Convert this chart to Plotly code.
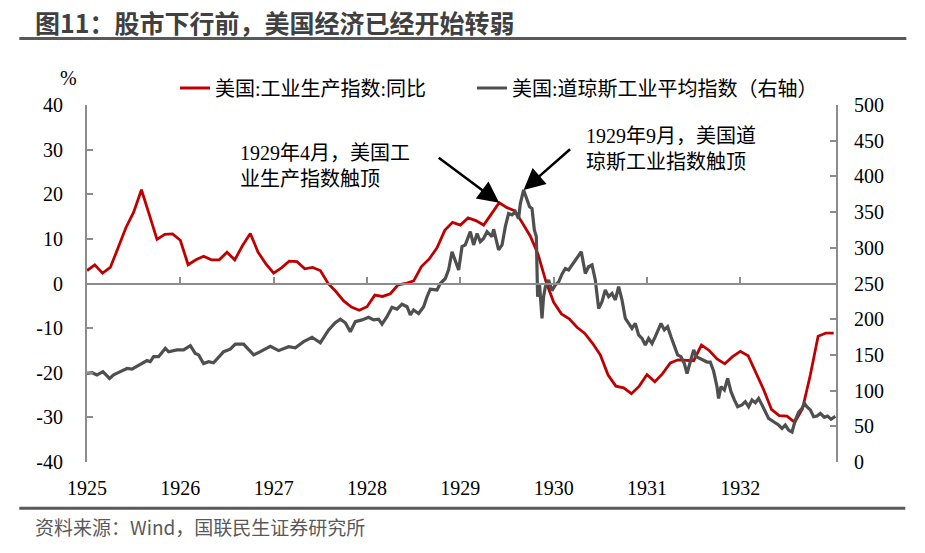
import plotly.graph_objects as go

# ---------------- data ----------------
years = [1925, 1926, 1927, 1928, 1929, 1930, 1931, 1932]
year_labels = ["1925", "1926", "1927", "1928", "1929", "1930", "1931", "1932"]
left_ticks = [-40, -30, -20, -10, 0, 10, 20, 30, 40]
left_labels = ["-40", "-30", "-20", "-10", "0", "10", "20", "30", "40"]
right_ticks = [0, 50, 100, 150, 200, 250, 300, 350, 400, 450, 500]

# US industrial production YoY (%), monthly from 1925-01
ip_yoy = [2.9, 4.2, 2.3, 3.6, 8.0, 12.5, 16.0, 21.0, 15.5, 9.9, 11.0, 11.1,
          9.7, 4.2, 5.3, 6.1, 5.3, 5.3, 7.0, 5.3, 8.5, 11.2, 7.0, 4.4,
          2.3, 3.5, 5.0, 4.9, 3.3, 3.6, 2.9, 0.0, -1.8, -3.9, -5.3, -6.0,
          -5.2, -2.6, -2.9, -2.3, -0.3, 0.0, 0.6, 3.8, 5.5, 8.0, 11.9, 13.7,
          13.1, 14.7, 14.1, 13.1, 15.6, 18.1, 17.0, 16.3, 13.5, 10.6, 6.5, 0.5,
          -4.2, -6.8, -7.9, -9.8, -11.2, -13.4, -16.0, -20.5, -23.0, -23.4, -24.7, -23.0,
          -20.4, -22.0, -20.2, -17.8, -17.1, -17.2, -17.3, -13.8, -15.0, -16.9, -18.0, -16.4,
          -15.2, -16.2, -20.0, -23.8, -28.2, -29.6, -29.7, -31.1, -28.0, -20.5, -11.8, -11.1,
          -11.1]

# Dow Jones Industrial Average: time (years after 1925-01-01) and level
dow_t = [0.000, 0.054, 0.107, 0.171, 0.242, 0.285, 0.357, 0.429, 0.482, 0.571,
         0.643, 0.678, 0.714, 0.767, 0.839, 0.874, 0.964, 1.035, 1.107, 1.160,
         1.196, 1.249, 1.303, 1.356, 1.464, 1.535, 1.589, 1.678, 1.731, 1.785,
         1.857, 1.964, 2.053, 2.160, 2.232, 2.321, 2.411, 2.500, 2.589, 2.660,
         2.714, 2.768, 2.821, 2.875, 2.947, 3.017, 3.071, 3.124, 3.161, 3.214,
         3.268, 3.322, 3.375, 3.429, 3.464, 3.499, 3.553, 3.607, 3.643, 3.678,
         3.750, 3.785, 3.839, 3.874, 3.911, 3.946, 3.982, 4.018, 4.053, 4.107,
         4.142, 4.179, 4.214, 4.249, 4.286, 4.339, 4.357, 4.410, 4.447, 4.482,
         4.517, 4.554, 4.589, 4.624, 4.643, 4.678, 4.714, 4.742, 4.768, 4.793,
         4.814, 4.828, 4.849, 4.857, 4.875, 4.892, 4.911, 4.946, 4.982, 5.018,
         5.053, 5.089, 5.125, 5.160, 5.197, 5.250, 5.296, 5.339, 5.374, 5.411,
         5.446, 5.482, 5.518, 5.553, 5.589, 5.625, 5.661, 5.696, 5.732, 5.768,
         5.803, 5.839, 5.875, 5.910, 5.947, 5.982, 6.017, 6.054, 6.089, 6.125,
         6.150, 6.186, 6.221, 6.257, 6.293, 6.328, 6.364, 6.400, 6.429, 6.464,
         6.500, 6.528, 6.564, 6.607, 6.643, 6.678, 6.714, 6.750, 6.767, 6.793,
         6.829, 6.864, 6.900, 6.936, 6.971, 7.018, 7.053, 7.089, 7.125, 7.161,
         7.196, 7.232, 7.268, 7.303, 7.357, 7.410, 7.447, 7.482, 7.517, 7.554,
         7.589, 7.625, 7.661, 7.686, 7.715, 7.750, 7.785, 7.822, 7.857, 7.900,
         7.935, 7.972, 8.018]
dow = [124, 125, 122, 126.5, 117, 122, 126.5, 131, 130, 136,
       142, 140.5, 147.5, 147.5, 159, 154.5, 157, 157, 163, 152,
       150, 138, 140.5, 139, 154.5, 158, 165, 165, 158, 150,
       154.5, 162, 156, 161.5, 160, 168.5, 174.7, 167, 185, 195,
       200, 195, 182.5, 196.5, 199, 202.7, 199, 200, 193, 203.5,
       216.7, 214, 221, 217.5, 206, 213, 208, 217.5, 231.5, 242,
       241, 250, 257, 269, 294.5, 280.5, 269, 301.6, 304, 322.6,
       304, 320, 308.6, 313, 322.6, 315.6, 326, 297, 304, 329.6,
       348, 346, 350.6, 341, 362, 381, 369, 357.6, 355, 325,
       315.6, 231.5, 248, 236, 201, 231.5, 245.5, 255, 240, 248,
       252, 263, 271, 269, 276, 285, 294.5, 264, 273.5, 276,
       255, 215, 224.5, 241, 231.5, 236, 227, 245.5, 227, 201,
       194, 187, 194, 178, 173, 164, 173, 166, 175.5, 185,
       194, 185, 189.5, 175.5, 164, 150, 147.5, 138, 124, 140.5,
       157, 147.5, 145, 142, 140, 140, 127, 105.5, 89, 105.5,
       101, 117, 98.5, 87, 77.4, 80, 84.5, 77.4, 86.8, 83,
       89, 80, 70, 61, 56.4, 51.8, 47, 51.8, 44.8, 42,
       58.8, 70, 75, 82, 77, 73, 63.4, 64.4, 68, 62.6,
       64.4, 59.8, 64]

ip_name = "美国:工业生产指数:同比"
dow_name = "美国:道琼斯工业平均指数（右轴）"

# ---------------- derived ----------------
ip_x = [1925 + m / 12 for m in range(len(ip_yoy))]
dow_x = [1925 + t for t in dow_t]
x_range = [1925, 1933.025]

# 1929 peak of industrial production, and the overall Dow peak
ip_1929 = [i for i in range(len(ip_x)) if 1929 <= ip_x[i] < 1930]
ip_peak_i = max(ip_1929, key=lambda i: ip_yoy[i])
dow_peak_i = max(range(len(dow)), key=lambda i: dow[i])

AXIS_GREY = "#8c8c8c"
SERIF = "Liberation Serif, Noto Sans CJK SC"

fig = go.Figure()
fig.add_trace(go.Scatter(x=ip_x, y=ip_yoy, name=ip_name, mode="lines",
                         line=dict(color="#c00000", width=2.8), yaxis="y",
                         legend="legend"))
fig.add_trace(go.Scatter(x=dow_x, y=dow, name=dow_name, mode="lines",
                         line=dict(color="#4f4f4f", width=3.2), yaxis="y2",
                         legend="legend2"))
# carrier for the tick marks on the zero line
fig.add_trace(go.Scatter(x=[], y=[], xaxis="x2", yaxis="y", showlegend=False,
                         hoverinfo="skip"))

legend_common = dict(orientation="h", y=1.0476, xanchor="left", yanchor="middle",
                     font=dict(family=SERIF, size=20, color="black"),
                     bgcolor="rgba(0,0,0,0)", itemwidth=30)

fig.update_layout(
    width=925, height=553,
    margin=dict(l=87, r=89, t=105, b=91),
    paper_bgcolor="white", plot_bgcolor="white",
    showlegend=True,
    legend=dict(x=0.1175, **legend_common),
    legend2=dict(x=0.514, **legend_common),
    xaxis=dict(range=x_range, tickvals=years, ticktext=year_labels,
               showline=False, ticks="", showgrid=False, zeroline=False,
               tickfont=dict(family=SERIF, size=20, color="black"),
               ticklabelstandoff=12),
    xaxis2=dict(overlaying="x", anchor="free", position=0.5, range=x_range,
                tickvals=years[1:], ticks="inside", ticklen=6, tickwidth=1.5,
                tickcolor=AXIS_GREY, showticklabels=False, showline=True,
                linecolor=AXIS_GREY, linewidth=1.5, showgrid=False, zeroline=False),
    yaxis=dict(range=[-40, 40], tickvals=left_ticks, ticktext=left_labels,
               ticks="inside", ticklen=6, tickwidth=1.5, tickcolor=AXIS_GREY,
               showline=True, linecolor=AXIS_GREY, linewidth=2,
               showgrid=False, zeroline=False,
               tickfont=dict(family=SERIF, size=20, color="black"),
               ticklabelstandoff=18),
    yaxis2=dict(overlaying="y", side="right", range=[0, 500],
                tickvals=right_ticks,
                ticks="inside", ticklen=6, tickwidth=1.5, tickcolor=AXIS_GREY,
                showline=True, linecolor=AXIS_GREY, linewidth=2,
                showgrid=False, zeroline=False,
                tickfont=dict(family=SERIF, size=20, color="black"),
                ticklabelstandoff=12),
)

annotations = [
    dict(text="图11：股市下行前，美国经济已经开始转弱", xref="paper", yref="paper",
         x=-0.0717, y=1.2325, xanchor="left", yanchor="middle", showarrow=False,
         font=dict(family="Noto Sans CJK SC", size=25, color="#404040", weight=700)),
    dict(text="资料来源：Wind，国联民生证券研究所", xref="paper", yref="paper",
         x=-0.0717, y=-0.182, xanchor="left", yanchor="middle", showarrow=False,
         font=dict(family="Noto Sans CJK SC", size=19, color="#595959")),
    dict(text="%", xref="paper", yref="paper", x=-0.025, y=1.0756,
         xanchor="center", yanchor="middle", showarrow=False,
         font=dict(family=SERIF, size=20, color="black")),
    dict(text="1929年4月，美国工<br>业生产指数触顶", xref="paper", yref="paper",
         x=0.202, y=0.8305, xanchor="left", yanchor="middle", align="left",
         showarrow=False, font=dict(family=SERIF, size=20, color="black")),
    dict(text="1929年9月，美国道<br>琼斯工业指数触顶", xref="paper", yref="paper",
         x=0.664, y=0.877, xanchor="left", yanchor="middle", align="left",
         showarrow=False, font=dict(family=SERIF, size=20, color="black")),
    dict(text="", xref="x", yref="y", x=ip_x[ip_peak_i], y=ip_yoy[ip_peak_i],
         ax=-62, ay=-46, showarrow=True, arrowhead=2, arrowsize=1.7,
         arrowwidth=2.5, arrowcolor="black", standoff=0),
    dict(text="", xref="x", yref="y2", x=dow_x[dow_peak_i], y=dow[dow_peak_i],
         ax=48, ay=-42, showarrow=True, arrowhead=2, arrowsize=1.7,
         arrowwidth=2.5, arrowcolor="black", standoff=0),
]
fig.update_layout(annotations=annotations)

fig.update_layout(shapes=[
    dict(type="line", xref="paper", yref="paper", x0=-0.0904, x1=1.0939,
         y0=1.1863, y1=1.1863, line=dict(color="#595959", width=3)),
    dict(type="line", xref="paper", yref="paper", x0=-0.0904, x1=1.0925,
         y0=-0.1297, y1=-0.1297, line=dict(color="#595959", width=3)),
])

fig.write_html("out.html")
